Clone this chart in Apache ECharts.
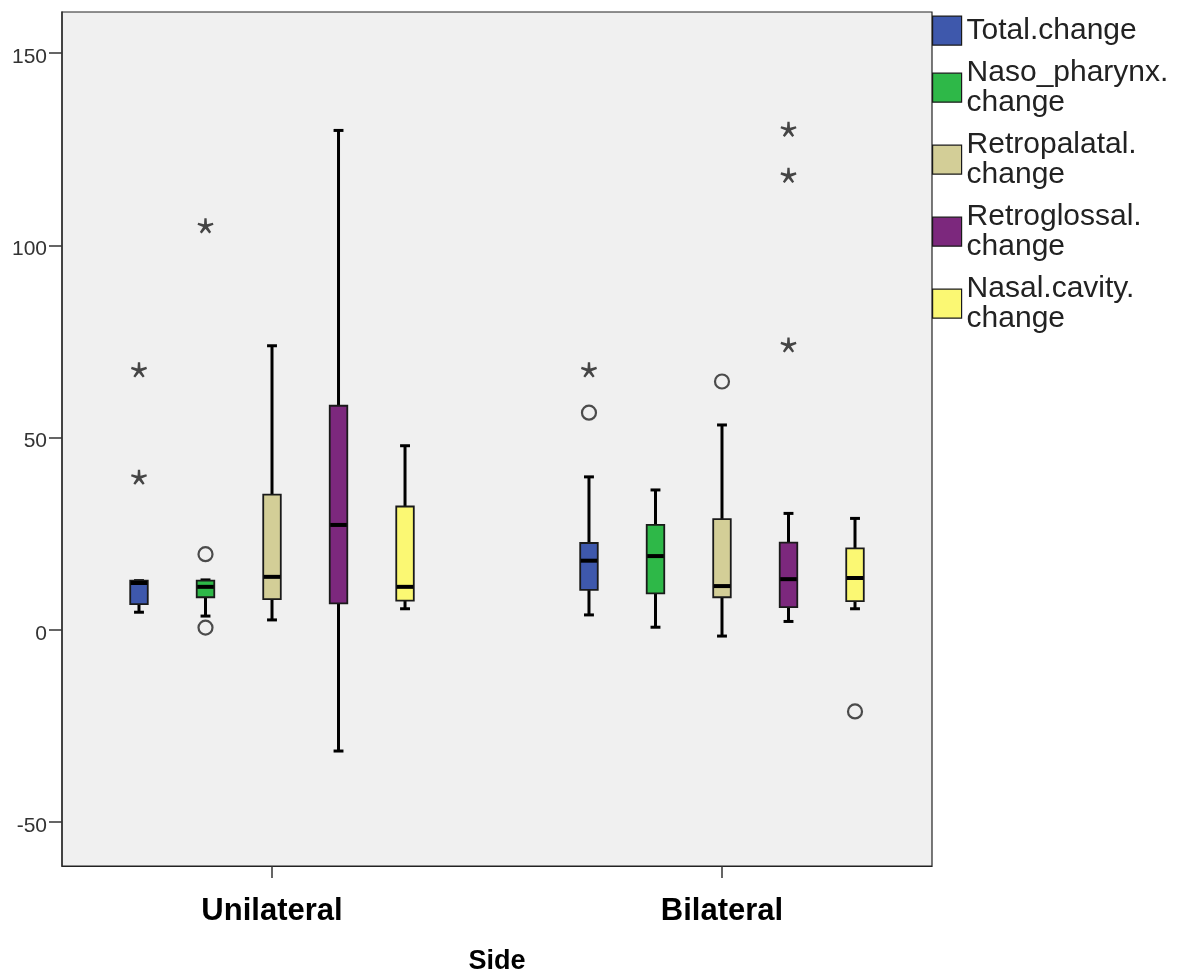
<!DOCTYPE html>
<html>
<head>
<meta charset="utf-8">
<script src="https://cdn.jsdelivr.net/npm/echarts@6/dist/echarts.min.js"></script>
<style>
html,body{margin:0;padding:0;background:#fff;}
#chart{width:1177px;height:974px;}
</style>
</head>
<body>
<div id="chart"></div>
<script>
// ---- data ----
const categories = ['Unilateral', 'Bilateral'];
const seriesNames = ['Total.change', 'Naso_pharynx.change', 'Retropalatal.change', 'Retroglossal.change', 'Nasal.cavity.change'];
const yTicks = [-50, 0, 50, 100, 150];

// [min, Q1, median, Q3, max] per category
const totalBox = [[4.6, 6.7, 12.2, 12.8, 12.8], [3.9, 10.4, 18.0, 22.6, 39.8]];
const nasoBox = [[3.6, 8.5, 11.2, 12.8, 13.0], [0.7, 9.5, 19.2, 27.3, 36.4]];
const retropalatalBox = [[2.6, 8.0, 13.8, 35.2, 73.9], [-1.6, 8.5, 11.4, 28.8, 53.3]];
const retroglossalBox = [[-31.5, 6.9, 27.3, 58.3, 129.9], [2.2, 5.9, 13.2, 22.7, 30.3]];
const nasalBox = [[5.5, 7.6, 11.2, 32.1, 47.9], [5.5, 7.5, 13.5, 21.2, 29.0]];

// outliers: [categoryIndex, value]
const totalCircles = [[1, 56.5]];
const totalStars = [[0, 67.6], [0, 39.7], [1, 67.6]];
const nasoCircles = [[0, 19.7], [0, 0.6]];
const nasoStars = [[0, 105.1]];
const retropalatalCircles = [[1, 64.6]];
const retropalatalStars = [];
const retroglossalCircles = [];
const retroglossalStars = [[1, 130.2], [1, 118.2], [1, 74.1]];
const nasalCircles = [[1, -21.2]];
const nasalStars = [];

// ---- styling / layout ----
const colors = ['#3E58AC', '#2EB848', '#D3CE97', '#7C287D', '#FBF873'];
const boxes = [totalBox, nasoBox, retropalatalBox, retroglossalBox, nasalBox];
const circles = [totalCircles, nasoCircles, retropalatalCircles, retroglossalCircles, nasalCircles];
const stars = [totalStars, nasoStars, retropalatalStars, retroglossalStars, nasalStars];
const STEP = 0.1478;      // spacing between series inside a category (axis units)
const BOX_W = 0.039;      // box width (axis units)
const CAP_W = 0.022;      // whisker cap width (axis units)
const FONT = 'Liberation Sans, Arial, sans-serif';

function offsetOf(j) { return (j - 2) * STEP; }

// asterisk symbol path (5 spokes)
function starPath() {
  const w = 0.2, parts = [];
  for (let k = 0; k < 5; k++) {
    const a = (-90 + k * 72) * Math.PI / 180;
    const dx = Math.cos(a), dy = Math.sin(a);
    const px = -dy * w, py = dx * w;
    const pts = [[px, py], [dx + px * 0.7, dy + py * 0.7], [dx - px * 0.7, dy - py * 0.7], [-px, -py]];
    parts.push('M' + pts.map(p => ((p[0] + 1.2) * 50).toFixed(2) + ' ' + ((p[1] + 1.2) * 50).toFixed(2)).join(' L') + ' Z');
  }
  return 'path://' + parts.join(' ');
}
const STAR = starPath();

function makeRender(j) {
  return function (params, api) {
    const x = api.value(0) + offsetOf(j);
    const lo = api.coord([x, api.value(1)]);
    const q1 = api.coord([x, api.value(2)]);
    const md = api.coord([x, api.value(3)]);
    const q3 = api.coord([x, api.value(4)]);
    const hi = api.coord([x, api.value(5)]);
    const bw = api.size([BOX_W, 0])[0];
    const cw = api.size([CAP_W, 0])[0];
    const cx = lo[0];
    const wl = {stroke: '#000', lineWidth: 3};
    return {
      type: 'group',
      children: [
        {type: 'line', shape: {x1: cx, y1: hi[1], x2: cx, y2: q3[1]}, style: wl},
        {type: 'line', shape: {x1: cx, y1: q1[1], x2: cx, y2: lo[1]}, style: wl},
        {type: 'line', shape: {x1: cx - cw / 2, y1: hi[1], x2: cx + cw / 2, y2: hi[1]}, style: wl},
        {type: 'line', shape: {x1: cx - cw / 2, y1: lo[1], x2: cx + cw / 2, y2: lo[1]}, style: wl},
        {type: 'rect', shape: {x: cx - bw / 2, y: q3[1], width: bw, height: q1[1] - q3[1]},
          style: {fill: colors[j], stroke: '#1a1a1a', lineWidth: 1.8}},
        {type: 'line', shape: {x1: cx - bw / 2 + 0.5, y1: md[1], x2: cx + bw / 2 - 0.5, y2: md[1]},
          style: {stroke: '#000', lineWidth: 4}}
      ]
    };
  };
}

const series = [];
seriesNames.forEach(function (name, j) {
  series.push({
    name: name,
    type: 'custom',
    color: colors[j],
    itemStyle: {color: colors[j]},
    renderItem: makeRender(j),
    encode: {x: 0, y: [1, 2, 3, 4, 5]},
    data: boxes[j].map(function (b, c) { return [c].concat(b); }),
    z: 2
  });
});
seriesNames.forEach(function (name, j) {
  series.push({
    name: name + ' outliers',
    type: 'scatter',
    symbol: 'circle',
    symbolSize: 14,
    itemStyle: {color: 'rgba(0,0,0,0)', borderColor: '#222', borderWidth: 2.2},
    data: circles[j].map(function (p) { return [p[0] + offsetOf(j), p[1]]; }),
    z: 3
  });
  series.push({
    name: name + ' extremes',
    type: 'scatter',
    symbol: STAR,
    symbolKeepAspect: true,
    symbolSize: 16,
    itemStyle: {color: '#1a1a1a'},
    data: stars[j].map(function (p) { return [p[0] + offsetOf(j), p[1]]; }),
    z: 3
  });
});

const chart = echarts.init(document.getElementById('chart'), null, {renderer: 'canvas'});
chart.setOption({
  animation: false,
  backgroundColor: '#fff',
  grid: {left: 62, right: 245, top: 12, bottom: 108, show: true, outerBoundsMode: 'none',
    containLabel: false,
    backgroundColor: '#F0F0F0', borderColor: '#222', borderWidth: 1.2},
  legend: {
    data: seriesNames,
    orient: 'vertical',
    left: 932, top: 15.5, padding: 0,
    itemWidth: 29, itemHeight: 29, itemGap: 12,
    icon: 'rect',
    itemStyle: {borderColor: '#1a1a1a', borderWidth: 1.2},
    selectedMode: false,
    formatter: function (n) { return n === 'Total.change' ? n : n.replace(/\.change$/, '.\nchange'); },
    textStyle: {fontSize: 30, lineHeight: 30, color: '#222', fontFamily: FONT}
  },
  xAxis: {
    type: 'value',
    min: -0.4667, max: 1.4667,
    name: 'Side',
    nameLocation: 'middle',
    nameGap: 82,
    nameTextStyle: {fontSize: 27, fontWeight: 'bold', color: '#000', fontFamily: FONT},
    splitLine: {show: false},
    axisLine: {show: true, onZero: false, lineStyle: {color: '#222', width: 1.2}},
    axisTick: {show: true, customValues: [0, 1], length: 12, lineStyle: {color: '#333', width: 1.5}},
    axisLabel: {customValues: [0, 1], margin: 30,
      formatter: function (v) { return categories[Math.round(v)]; },
      fontSize: 31, fontWeight: 'bold', color: '#000', fontFamily: FONT}
  },
  yAxis: {
    type: 'value',
    min: -61.4, max: 160.7,
    splitLine: {show: false},
    axisLine: {show: true, onZero: false, lineStyle: {color: '#333', width: 1.5}},
    axisTick: {show: true, customValues: yTicks, length: 13, lineStyle: {color: '#333', width: 1.5}},
    axisLabel: {customValues: yTicks, margin: 15, fontSize: 21, color: '#333', fontFamily: FONT,
      verticalAlign: 'top', lineHeight: 8}
  },
  series: series
});
</script>
</body>
</html>
